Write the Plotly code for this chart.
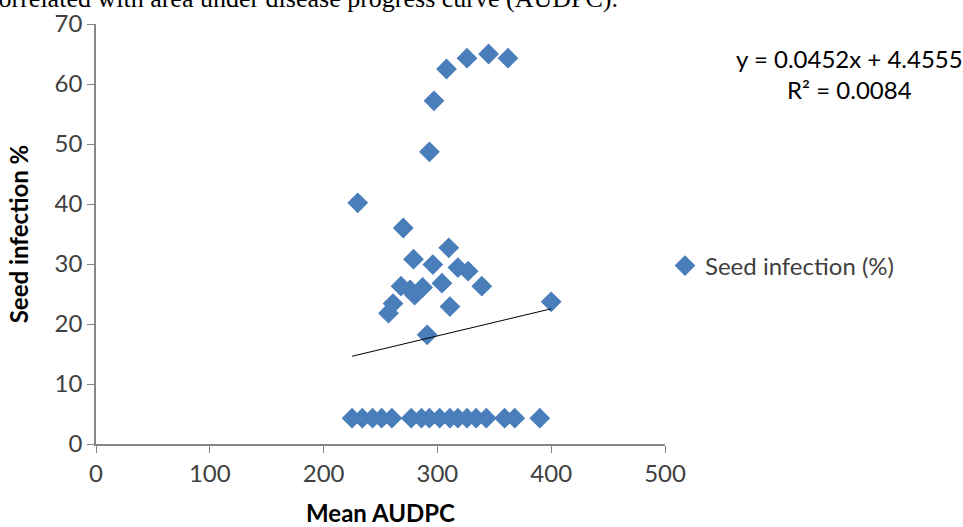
import plotly.graph_objects as go

# Data
mean_audpc = [
    230, 270, 293, 297, 308, 326, 345, 362,
    310, 279, 296, 318, 327, 339, 304, 268, 287, 280, 276, 261, 257, 311, 291, 400,
    225, 234, 243, 251, 260, 277, 286, 293, 302, 311, 318, 326, 334, 343, 359, 368, 390,
]
seed_infection = [
    40.2, 36.0, 48.7, 57.2, 62.5, 64.3, 65.0, 64.3,
    32.7, 30.8, 29.9, 29.4, 28.8, 26.3, 26.8, 26.3, 26.1, 24.8, 25.7, 23.4, 21.8, 22.9, 18.2, 23.7,
    4.3, 4.3, 4.3, 4.3, 4.3, 4.3, 4.3, 4.3, 4.3, 4.3, 4.3, 4.3, 4.3, 4.3, 4.3, 4.3, 4.3,
]
slope = 0.0452
intercept = 4.4555
r_squared = 0.0084
x_ticks = [0, 100, 200, 300, 400, 500]
y_ticks = [0, 10, 20, 30, 40, 50, 60, 70]

trend_x = [min(mean_audpc), max(mean_audpc)]
trend_y = [slope * v + intercept for v in trend_x]

FONT = "Lato, 'Open Sans', sans-serif"
TXT = "#404040"
AX = "#868686"
FS = 24

fig = go.Figure()
fig.add_trace(go.Scatter(
    x=mean_audpc, y=seed_infection, mode="markers", name="Seed infection (%)",
    marker=dict(symbol="diamond", size=16, color="#4a7ebb", line=dict(width=0)),
))
fig.add_trace(go.Scatter(
    x=trend_x, y=trend_y, mode="lines", showlegend=False,
    line=dict(color="#000000", width=1),
))

fig.update_layout(
    width=963, height=527,
    margin=dict(l=96, r=298, t=24, b=83, autoexpand=False),
    plot_bgcolor="white", paper_bgcolor="white",
    font=dict(family=FONT, size=FS, color=TXT),
    legend=dict(x=(664 - 96) / 568, y=(444 - 266) / 420, xanchor="left", yanchor="middle",
                font=dict(size=FS, color=TXT), bgcolor="rgba(0,0,0,0)"),
    xaxis=dict(
        range=[0, 500], tickvals=x_ticks, showgrid=False, zeroline=False, automargin=False,
        showline=True, linecolor=AX, linewidth=1.5, ticks="outside", ticklen=7,
        tickcolor=AX, tickfont=dict(size=FS, color=TXT),
        title=dict(text="<b>Mean AUDPC</b>", font=dict(size=FS, color="#000000"), standoff=29),
    ),
    yaxis=dict(
        range=[0, 70], tickvals=y_ticks, showgrid=False, zeroline=False, automargin=False,
        showline=True, linecolor=AX, linewidth=1.5, ticks="outside", ticklen=7,
        tickcolor=AX, tickfont=dict(size=FS, color=TXT),
        title=dict(text="<b>Seed infection %</b>", font=dict(size=FS, color="#000000"), standoff=19),
    ),
    annotations=[
        dict(text=f"y = {slope}x + {intercept}<br>R² = {r_squared}",
             x=(848 - 96) / 568, y=(444 - 74) / 420, xref="paper", yref="paper", showarrow=False,
             xanchor="center", yanchor="middle", align="center",
             font=dict(size=FS, color="#000000")),
        dict(text="correlated with area under disease progress curve (AUDPC).",
             x=(-15 - 96) / 568, y=(444 + 1) / 420, xref="paper", yref="paper",
             showarrow=False, xanchor="left", yanchor="middle",
             font=dict(family="'Liberation Serif', serif", size=26, color="#000000")),
    ],
)

fig.write_html("out.html", config={"displayModeBar": False},
               post_script="document.body.style.margin='0';")
